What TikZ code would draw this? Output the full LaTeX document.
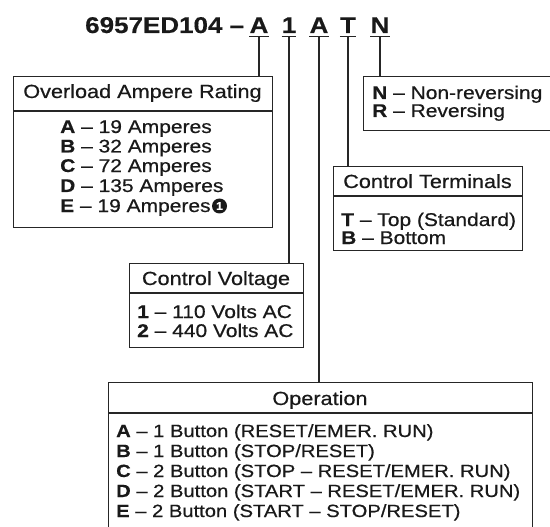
\documentclass[tikz,border=0pt]{standalone}
\usepackage{fontspec}
\setmainfont{Liberation Sans}[FakeStretch=1.14, FakeBold=0.6, BoldFeatures={FakeBold=0.4}]
\begin{document}
\begin{tikzpicture}[x=1pt,y=-1pt,
  box/.style={draw=black!85, line width=1.1pt, inner sep=0pt, anchor=north west},
  wire/.style={draw=black!85, line width=1.1pt},
  hdr/.style={font=\fontsize{19}{21}\selectfont, inner sep=0pt, anchor=base, text=black!90},
  itm/.style={font=\fontsize{18.4}{20}\selectfont, inner sep=0pt, anchor=base west, text=black!90},
  opitm/.style={itm, font=\fontsize{17.7}{20}\selectfont},
  ttl/.style={font=\bfseries\fontsize{22.8}{25}\selectfont, inner sep=0pt, anchor=base, text=black!90},
  fnmark/.style={circle, fill=black!90, inner sep=0pt, minimum size=15pt, text=white, font=\bfseries\fontsize{11}{11}\selectfont}]
\useasboundingbox (0,0) rectangle (550,527);
\clip (0,0) rectangle (550,527);

% title
\node[ttl, anchor=base west] (tpre) at (85,33) {6957ED104 --};
\node[ttl] (lA) at (259,33) {A};
\node[ttl] (l1) at (289,33) {1};
\node[ttl] (lO) at (319,33) {A};
\node[ttl] (lT) at (348,33) {T};
\node[ttl] (lN) at (380,33) {N};
\foreach \n in {lA,l1,lO,lT,lN}{
  \draw[wire] ([yshift=-3.5pt]\n.south west) -- ([yshift=-3.5pt]\n.south east);
}

% Overload Ampere Rating
\node[box, minimum width=259pt, minimum height=151pt] (ovl) at (13,76) {};
\draw[wire] (13,111) -- (272,111);
\node[hdr] (ovlh) at (142.5,98) {Overload Ampere Rating};
\node[itm] (oA) at (60,133) {\textbf{A} -- 19 Amperes};
\node[itm] (oB) at (60,152.5) {\textbf{B} -- 32 Amperes};
\node[itm] (oC) at (60,172) {\textbf{C} -- 72 Amperes};
\node[itm] (oD) at (60,192) {\textbf{D} -- 135 Amperes};
\node[itm] (oE) at (60,212) {\textbf{E} -- 19 Amperes};
\node[fnmark, anchor=west] (fn) at ([xshift=1pt,yshift=6pt]oE.base east) {1};

% Reversing
\node[box, minimum width=200pt, minimum height=54pt] (rev) at (363,76) {};
\node[itm] (rN) at (372,99) {\textbf{N} -- Non-reversing};
\node[itm] (rR) at (372,117) {\textbf{R} -- Reversing};

% Control Terminals
\node[box, minimum width=189pt, minimum height=84pt] (ct) at (333,166) {};
\draw[wire] (333,196) -- (522,196);
\node[hdr] (cth) at (427.5,188) {Control Terminals};
\node[itm] (ctT) at (341,226) {\textbf{T} -- Top (Standard)};
\node[itm] (ctB) at (341,244) {\textbf{B} -- Bottom};

% Control Voltage
\node[box, minimum width=174pt, minimum height=84pt] (cv) at (129,263) {};
\draw[wire] (129,293) -- (303,293);
\node[hdr] (cvh) at (216,285) {Control Voltage};
\node[itm] (cv1) at (137,318) {\textbf{1} -- 110 Volts AC};
\node[itm] (cv2) at (137,337) {\textbf{2} -- 440 Volts AC};

% Operation
\node[box, minimum width=424pt, minimum height=160pt] (op) at (108,382) {};
\draw[wire] (108,413) -- (532,413);
\node[hdr] (oph) at (320,405) {Operation};
\node[opitm] (pA) at (116,437) {\textbf{A} -- 1 Button (RESET/EMER. RUN)};
\node[opitm] (pB) at (116,457) {\textbf{B} -- 1 Button (STOP/RESET)};
\node[opitm] (pC) at (116,477) {\textbf{C} -- 2 Button (STOP -- RESET/EMER. RUN)};
\node[opitm] (pD) at (116,497) {\textbf{D} -- 2 Button (START -- RESET/EMER. RUN)};
\node[opitm] (pE) at (116,517) {\textbf{E} -- 2 Button (START -- STOP/RESET)};

% connectors
\draw[wire] ([yshift=-3.5pt]lA.south) -- (lA.south |- ovl.north);
\draw[wire] ([yshift=-3.5pt]l1.south) -- (l1.south |- cv.north);
\draw[wire] ([yshift=-3.5pt]lO.south) -- (lO.south |- op.north);
\draw[wire] ([yshift=-3.5pt]lT.south) -- (lT.south |- ct.north);
\draw[wire] ([yshift=-3.5pt]lN.south) -- (lN.south |- rev.north);
\end{tikzpicture}
\end{document}
